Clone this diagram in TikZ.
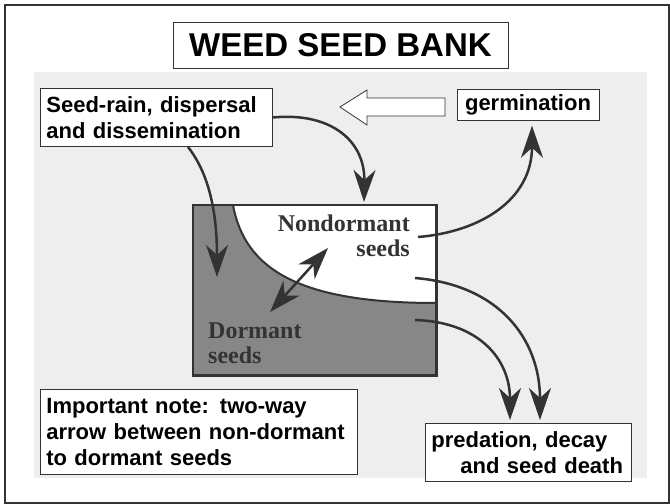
\documentclass[tikz,border=0pt]{standalone}
\usepackage{fontspec}
\setmainfont{Liberation Sans}
\newfontfamily\photofont{Liberation Serif}
\usetikzlibrary{arrows.meta,calc}

\definecolor{paper}{HTML}{EEEEEE}
\definecolor{dormgray}{HTML}{878787}
\definecolor{ink}{HTML}{333333}

\tikzset{
  seedtip/.tip={Stealth[length=32bp,width=22bp,inset=10bp]},
  box/.style={draw=black!80, fill=white, line width=0.8bp, inner xsep=6bp,
    inner ysep=8bp, align=left, font=\bfseries\fontsize{22bp}{26bp}\selectfont},
  flow/.style={draw=ink, line width=2.5bp, -seedtip},
  twoway/.style={draw=ink, line width=2.5bp, seedtip-seedtip},
  photo/.style={font=\photofont\bfseries\fontsize{24bp}{25bp}\selectfont, inner sep=0pt}
}

\begin{document}
\begin{tikzpicture}[x=1bp,y=-1bp]
  \useasboundingbox (0,0) rectangle (670,504);
  \draw[black!80, line width=1.5bp] (5,5) rectangle (669,503);
  \fill[paper] (34,72) rectangle (647,478);

  % labels
  \node[box, font=\bfseries\fontsize{33bp}{38bp}\selectfont, minimum width=335bp,
    minimum height=46bp, inner ysep=4bp] (title) at (340.5,45) {WEED SEED BANK};
  \node[box, anchor=north west, text width=220bp] (rain) at (40,88)
    {Seed-rain, dispersal\\and dissemination};
  \node[box, minimum width=142bp, inner ysep=5bp] (germ) at (528,105) {germination};
  \node[box, anchor=north west, text width=305bp, inner ysep=9bp] (note) at (40,389)
    {Important note: two-way\\arrow between non-dormant\\to dormant seeds};
  \node[box, anchor=north west, text width=194bp] (death) at (425,423)
    {predation, decay\\\hspace*{29bp}and seed death};

  % hollow arrow
  \draw[black!80, fill=white, line width=0.8bp] (340,107) -- (367,90) -- (367,98)
    -- (445,98) -- (445,116) -- (367,116) -- (367,125) -- cycle;

  % the seed bank
  \node[fill=dormgray, anchor=north west, minimum width=243bp, minimum height=170bp,
    inner sep=0pt] (bank) at (193,205) {};
  \fill[white] (233,205) .. controls (245,270) and (300,303) .. (436,303)
    -- (436,205) -- cycle;
  \draw[ink, line width=2bp] (233,205) .. controls (245,270) and (300,303) .. (436,303);
  \draw[ink, line width=2.5bp] (bank.north west) rectangle (bank.south east);

  \node[photo, text=ink, align=right, anchor=north east] (nond) at (410,215)
    {Nondormant\\seeds};
  \node[photo, text=ink, align=left, anchor=north west] (dorm) at (208,323)
    {Dormant\\seeds};

  \coordinate (dormin) at (217,277);
  \coordinate (nondout) at (418,237);
  \coordinate (nondloss) at (415,278);
  \coordinate (dormloss) at (415,320);
  \coordinate (upper) at (328,248);
  \coordinate (lower) at (270,312);

  % flows
  \draw[flow] ($(rain.south west)+(148,0)$) .. controls (210,175) and (217,215) .. (dormin);
  \draw[flow] (rain.east) .. controls (330,112) and (365,140) .. ($(bank.north west)+(171,-3)$);
  \draw[flow] (nondout) .. controls (480,232) and (532,200) .. ($(germ.south)+(4,5)$);
  \draw[flow] (nondloss) .. controls (500,285) and (540,340) .. ($(death.north west)+(115,-3)$);
  \draw[flow] (dormloss) .. controls (480,322) and (510,360) .. ($(death.north west)+(85,-3)$);
  \draw[twoway] (lower) -- (upper);
\end{tikzpicture}
\end{document}
